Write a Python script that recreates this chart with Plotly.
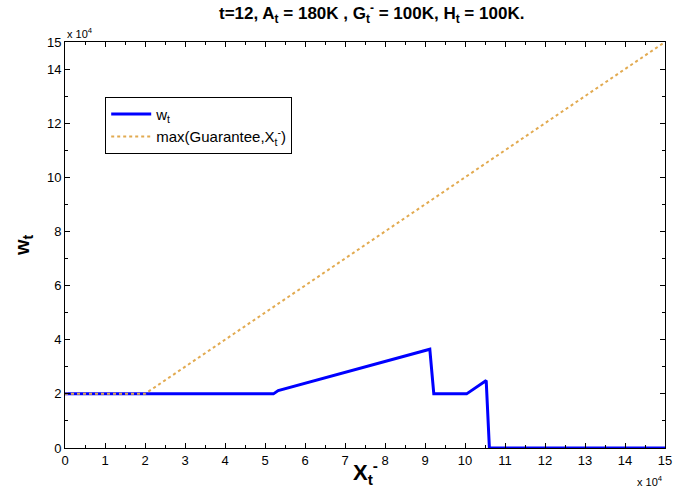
import plotly.graph_objects as go

# data (raw values)
w_x = [0, 52100, 53300, 91200, 92200, 100400, 105300, 106100, 150000]
w_y = [20000, 20000, 21200, 36500, 20000, 20000, 24900, 0, 0]
g_x = [0, 20000, 150000]
g_y = [20000, 20000, 150000]

x_ticks = list(range(0, 16))
y_ticks = [0, 2, 4, 6, 8, 10, 12, 14, 15]

FONT = "Liberation Sans, Arial, sans-serif"

fig = go.Figure()
fig.add_trace(go.Scatter(x=w_x, y=w_y, mode="lines", name="w<sub>t</sub>",
                         line=dict(color="#0000FF", width=3)))
fig.add_trace(go.Scatter(x=g_x, y=g_y, mode="lines", name="max(Guarantee,X<sub>t</sub><sup>-</sup>)",
                         line=dict(color="rgb(226,170,80)", width=2, dash="dot")))

axis_common = dict(showgrid=False, zeroline=False, showline=True, linecolor="black", linewidth=1,
                   mirror="ticks", ticks="inside", ticklen=5, tickcolor="black", automargin=False,
                   tickfont=dict(family=FONT, size=13, color="black"))

fig.update_xaxes(range=[0, 150000], tickvals=[v * 1e4 for v in x_ticks],
                 ticktext=[str(v) for v in x_ticks],
                 minor=dict(ticks="inside", dtick=5000, ticklen=3, tickcolor="black"),
                 **axis_common)
fig.update_yaxes(range=[0, 150000], tickvals=[v * 1e4 for v in y_ticks],
                 ticktext=[str(v) for v in y_ticks],
                 minor=dict(ticks="inside", dtick=10000, ticklen=3, tickcolor="black"),
                 **axis_common)

fig.update_layout(
    width=673, height=493,
    margin=dict(l=65, r=8, t=42, b=45, autoexpand=False),
    plot_bgcolor="white", paper_bgcolor="white",
    font=dict(family=FONT, color="black"),
    legend=dict(x=0.067, y=0.865, xanchor="left", yanchor="top",
                bordercolor="black", borderwidth=1, bgcolor="white",
                font=dict(family=FONT, size=15, color="black"),
                itemwidth=40, tracegroupgap=2),
    annotations=[
        dict(text="<b>t=12, A<sub>t</sub> = 180K , G<sub>t</sub><sup>-</sup> = 100K, H<sub>t</sub> = 100K.</b>",
             xref="paper", yref="paper", x=0.51, y=1.0, yshift=14, xanchor="center", yanchor="bottom",
             showarrow=False, font=dict(family=FONT, size=17)),
        dict(text="<b>X<sub>t</sub><sup>-</sup></b>", xref="paper", yref="paper", x=0.5, y=0,
             yshift=-7, xanchor="center", yanchor="top", showarrow=False, font=dict(family=FONT, size=22)),
        dict(text="<b>w<sub>t</sub></b>", xref="paper", yref="paper", x=0, xshift=-42, y=0.5,
             xanchor="center", yanchor="middle", textangle=-90, showarrow=False,
             font=dict(family=FONT, size=20)),
        dict(text="x 10<sup>4</sup>", xref="paper", yref="paper", x=0, y=1, xanchor="left",
             yanchor="bottom", showarrow=False, font=dict(family=FONT, size=11)),
        dict(text="x 10<sup>4</sup>", xref="paper", yref="paper", x=1, y=0, yshift=-24, xanchor="right",
             yanchor="top", showarrow=False, font=dict(family=FONT, size=11)),
    ],
)

fig.write_html("out.html", config={"displayModeBar": False},
               post_script="document.body.style.margin='0';document.body.style.padding='0';")
